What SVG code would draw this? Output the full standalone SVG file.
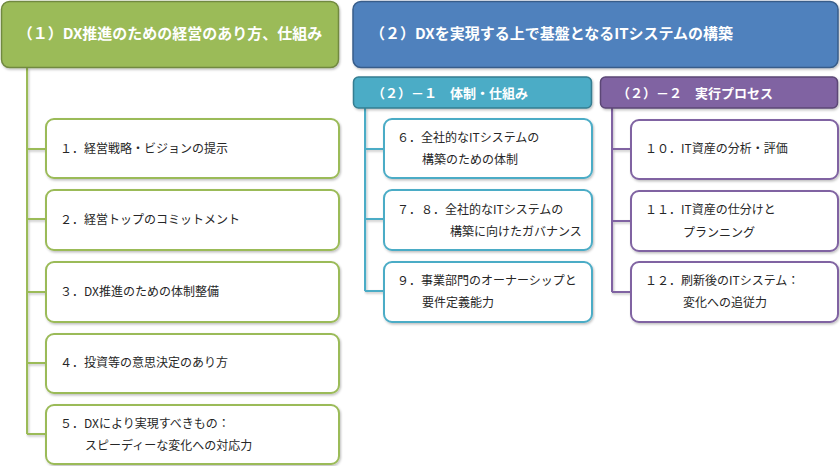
<svg xmlns="http://www.w3.org/2000/svg" width="840" height="466" viewBox="0 0 840 466">
<defs>
<filter id="sh" x="-5%" y="-5%" width="110%" height="120%">
<feDropShadow dx="1" dy="1.5" stdDeviation="1" flood-color="#000" flood-opacity="0.25"/>
</filter>
</defs>
<style>
text{font-family:"Noto Sans CJK JP","Noto Sans",sans-serif;}
.h{fill:#fff;font-weight:bold;font-size:15px;}
.s{fill:#fff;font-weight:bold;font-size:13px;}
.t{fill:#262626;font-size:12px;}
.bx{fill:#fff;stroke-width:2;filter:url(#sh);}
.g{stroke:#9BBB59;}
.b{stroke:#4BACC6;}
.p{stroke:#8064A2;}
.ln{fill:none;stroke-width:2.2;filter:url(#sh);}
</style>
<g id="connectors">
<path class="ln g" d="M27 68V434M27 149H46M27 219H46M27 292H46M27 363H46M27 434H46"/>
<path class="ln b" d="M365 108V291M365 149H384M365 219H384M365 291H384"/>
<path class="ln p" d="M612 108V292M612 149H631M612 221H631M612 292H631"/>
</g>
<g id="h1"><rect x="1.5" y="1.5" width="337" height="66" rx="8" fill="#9BBB59" stroke="#71893F" stroke-width="1.5" filter="url(#sh)"/><text class="h" x="170" y="39" text-anchor="middle">（１）DX推進のための経営のあり方、仕組み</text></g>
<g id="h2"><rect x="353" y="1.5" width="485" height="66" rx="8" fill="#4F81BD" stroke="#385D8A" stroke-width="1.5" filter="url(#sh)"/><text class="h" x="370" y="39">（２）DXを実現する上で基盤となるITシステムの構築</text></g>
<g id="h21"><rect x="353.5" y="77" width="238" height="31" rx="5" fill="#4BACC6" stroke="#357D91" stroke-width="1.5" filter="url(#sh)"/><text class="s" x="372" y="98">（２）－１　体制・仕組み</text></g>
<g id="h22"><rect x="600.5" y="77" width="237" height="31" rx="5" fill="#8064A2" stroke="#5C4776" stroke-width="1.5" filter="url(#sh)"/><text class="s" x="617" y="98">（２）－２　実行プロセス</text></g>
<g id="n1"><rect class="bx g" x="46" y="119" width="293" height="59" rx="8"/><text class="t" x="60" y="153">１．経営戦略・ビジョンの提示</text></g>
<g id="n2"><rect class="bx g" x="46" y="190" width="293" height="60" rx="8"/><text class="t" x="60" y="224">２．経営トップのコミットメント</text></g>
<g id="n3"><rect class="bx g" x="46" y="262" width="293" height="60" rx="8"/><text class="t" x="60" y="296">３．DX推進のための体制整備</text></g>
<g id="n4"><rect class="bx g" x="46" y="334" width="293" height="59" rx="8"/><text class="t" x="60" y="367">４．投資等の意思決定のあり方</text></g>
<g id="n5"><rect class="bx g" x="46" y="405" width="293" height="59" rx="8"/><text class="t" x="60" y="428">５．DXにより実現すべきもの：</text><text class="t" x="85" y="450">スピーディーな変化への対応力</text></g>
<g id="n6"><rect class="bx b" x="384" y="119" width="208" height="59" rx="8"/><text class="t" x="397" y="142">６．全社的なITシステムの</text><text class="t" x="422" y="164">構築のための体制</text></g>
<g id="n7"><rect class="bx b" x="384" y="190" width="208" height="60" rx="8"/><text class="t" x="397" y="214">７．８．全社的なITシステムの</text><text class="t" x="450" y="236">構築に向けたガバナンス</text></g>
<g id="n9"><rect class="bx b" x="384" y="262" width="208" height="60" rx="8"/><text class="t" x="397" y="285">９．事業部門のオーナーシップと</text><text class="t" x="422" y="307">要件定義能力</text></g>
<g id="n10"><rect class="bx p" x="631" y="120" width="207" height="59" rx="8"/><text class="t" x="645" y="153">１０．IT資産の分析・評価</text></g>
<g id="n11"><rect class="bx p" x="631" y="191" width="207" height="60" rx="8"/><text class="t" x="645" y="214">１１．IT資産の仕分けと</text><text class="t" x="683" y="237">プランニング</text></g>
<g id="n12"><rect class="bx p" x="631" y="262" width="207" height="60" rx="8"/><text class="t" x="645" y="285">１２．刷新後のITシステム：</text><text class="t" x="683" y="307">変化への追従力</text></g>
</svg>
